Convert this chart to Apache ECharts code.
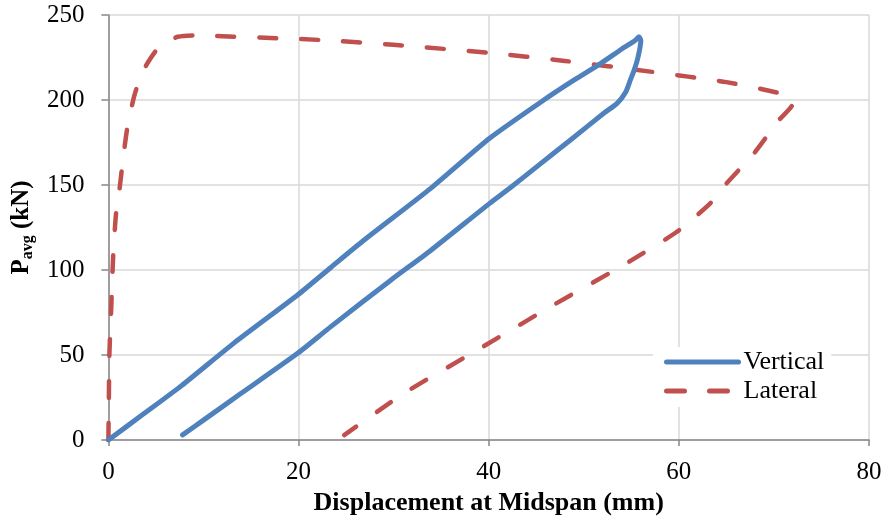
<!DOCTYPE html>
<html>
<head>
<meta charset="utf-8">
<script src="https://cdn.jsdelivr.net/npm/echarts@6/dist/echarts.min.js"></script>
<style>
  html, body { margin: 0; padding: 0; background: #fff; }
  #chart { width: 886px; height: 523px; }
</style>
</head>
<body>
<div id="chart"></div>
<script>
// 竖向位移 (loading then unloading)
const vertX = [0, 3.5, 7.7, 13.2, 19.9, 23.4, 26.9, 33.9, 40.1, 45.8, 49, 51.8, 54, 55.4, 55.8, 56, 55.7, 55.3, 54.9, 54.4, 53.5, 52.1, 48.6, 45, 42.3, 40.1, 33.9, 29.7, 23.4, 19.9, 14, 10, 7.8];
const vertY = [0, 14.5, 32, 57, 85.3, 101.5, 117.6, 148, 177.5, 200, 211.8, 221.6, 230, 235, 237.2, 235, 225, 217.6, 211.8, 204.5, 198, 192.2, 176.5, 160.5, 148.5, 139.2, 111.5, 94, 66.7, 51, 27.6, 11.7, 3];
// 横向位移
const latX = [0, 0.05, 0.1, 0.3, 0.5, 0.8, 1.2, 1.6, 2.0, 2.7, 3.4, 4.1, 5.2, 6.2, 7.3, 9, 12, 18.1, 22.3, 30, 39.9, 48, 57, 65, 71.7, 72, 70.5, 67.9, 64.7, 63.3, 59.8, 54.2, 46.5, 38.8, 31.1, 24.8];
const latY = [0, 25, 50, 78, 108, 133, 149, 168, 184, 202, 214, 221.6, 230.4, 234.5, 237.2, 238, 237.5, 236.3, 235.3, 232.5, 227.8, 223, 216.7, 210.5, 202.4, 198, 188, 168.6, 149, 139.2, 122.5, 103, 78.4, 52.9, 27.5, 2.9];

const xTicks = { min: 0, max: 80, interval: 20 };
const yTicks = { min: 0, max: 250, interval: 50 };

function pairs(xs, ys) {
  return xs.map((x, i) => [x, ys[i]]);
}

const fontFamily = "'Liberation Serif', 'Times New Roman', serif";
const axisGray = "#868686";
const gridGray = "#d9d9d9";
const blue = "#4F81BD";
const red = "#C0504D";

const chart = echarts.init(document.getElementById("chart"));
const option = {
  animation: false,
  textStyle: { fontFamily: fontFamily },
  grid: { left: 107, right: 17, top: 15, bottom: 83, containLabel: false },
  legend: {
    orient: "vertical",
    left: 653,
    top: 347,
    backgroundColor: "#fff",
    padding: [2, 7, 3, 11],
    itemWidth: 72,
    itemHeight: 26,
    itemGap: 3,
    icon: "inherit",
    textStyle: { fontSize: 26, color: "#000", fontFamily: fontFamily },
    data: [
      { name: "Vertical", itemStyle: { opacity: 0 }, lineStyle: { color: blue, width: 5, cap: "round" } },
      { name: "Lateral", itemStyle: { opacity: 0 }, lineStyle: { color: red, width: 5, type: [18, 25], cap: "round" } },
    ],
  },
  xAxis: {
    type: "value",
    min: xTicks.min,
    max: xTicks.max,
    interval: xTicks.interval,
    name: "Displacement at Midspan (mm)",
    nameLocation: "middle",
    nameGap: 50,
    nameTextStyle: { fontSize: 26, fontWeight: "bold", color: "#000", fontFamily: fontFamily },
    axisLine: { lineStyle: { color: axisGray, width: 1.5 } },
    axisTick: { show: true, length: 6, lineStyle: { color: axisGray, width: 1.5 } },
    axisLabel: { fontSize: 25, color: "#000", margin: 20, fontFamily: fontFamily },
    splitLine: { show: true, lineStyle: { color: gridGray, width: 1.5 } },
  },
  yAxis: {
    type: "value",
    min: yTicks.min,
    max: yTicks.max,
    interval: yTicks.interval,
    name: "{b|P}{s|avg}{b| (kN)}",
    nameLocation: "middle",
    nameGap: 72,
    nameRotate: 90,
    nameTextStyle: {
      color: "#000",
      fontFamily: fontFamily,
      rich: {
        b: { fontSize: 25, fontWeight: "bold", color: "#000", fontFamily: fontFamily, lineHeight: 28 },
        s: { fontSize: 16, fontWeight: "bold", color: "#000", fontFamily: fontFamily, verticalAlign: "bottom", lineHeight: 28, padding: [12, 0, 0, 0] },
      },
    },
    axisLine: { show: true, lineStyle: { color: axisGray, width: 1.5 } },
    axisTick: { show: true, length: 7, lineStyle: { color: axisGray, width: 1.5 } },
    axisLabel: { fontSize: 25, color: "#000", margin: 24, fontFamily: fontFamily },
    splitLine: { show: true, lineStyle: { color: gridGray, width: 1.5 } },
  },
  series: [
    {
      name: "Vertical",
      type: "line",
      showSymbol: false,
      symbol: "none",
      smooth: 0.2,
      lineStyle: { color: blue, width: 5, cap: "round", join: "round" },
      itemStyle: { color: blue },
      data: pairs(vertX, vertY),
      z: 3,
    },
    {
      name: "Lateral",
      type: "line",
      showSymbol: false,
      symbol: "none",
      smooth: 0.2,
      lineStyle: { color: red, width: 4.5, type: [17, 25], cap: "round", join: "round" },
      itemStyle: { color: red },
      data: pairs(latX, latY),
      z: 2,
    },
  ],
};
chart.setOption(option);
</script>
</body>
</html>
